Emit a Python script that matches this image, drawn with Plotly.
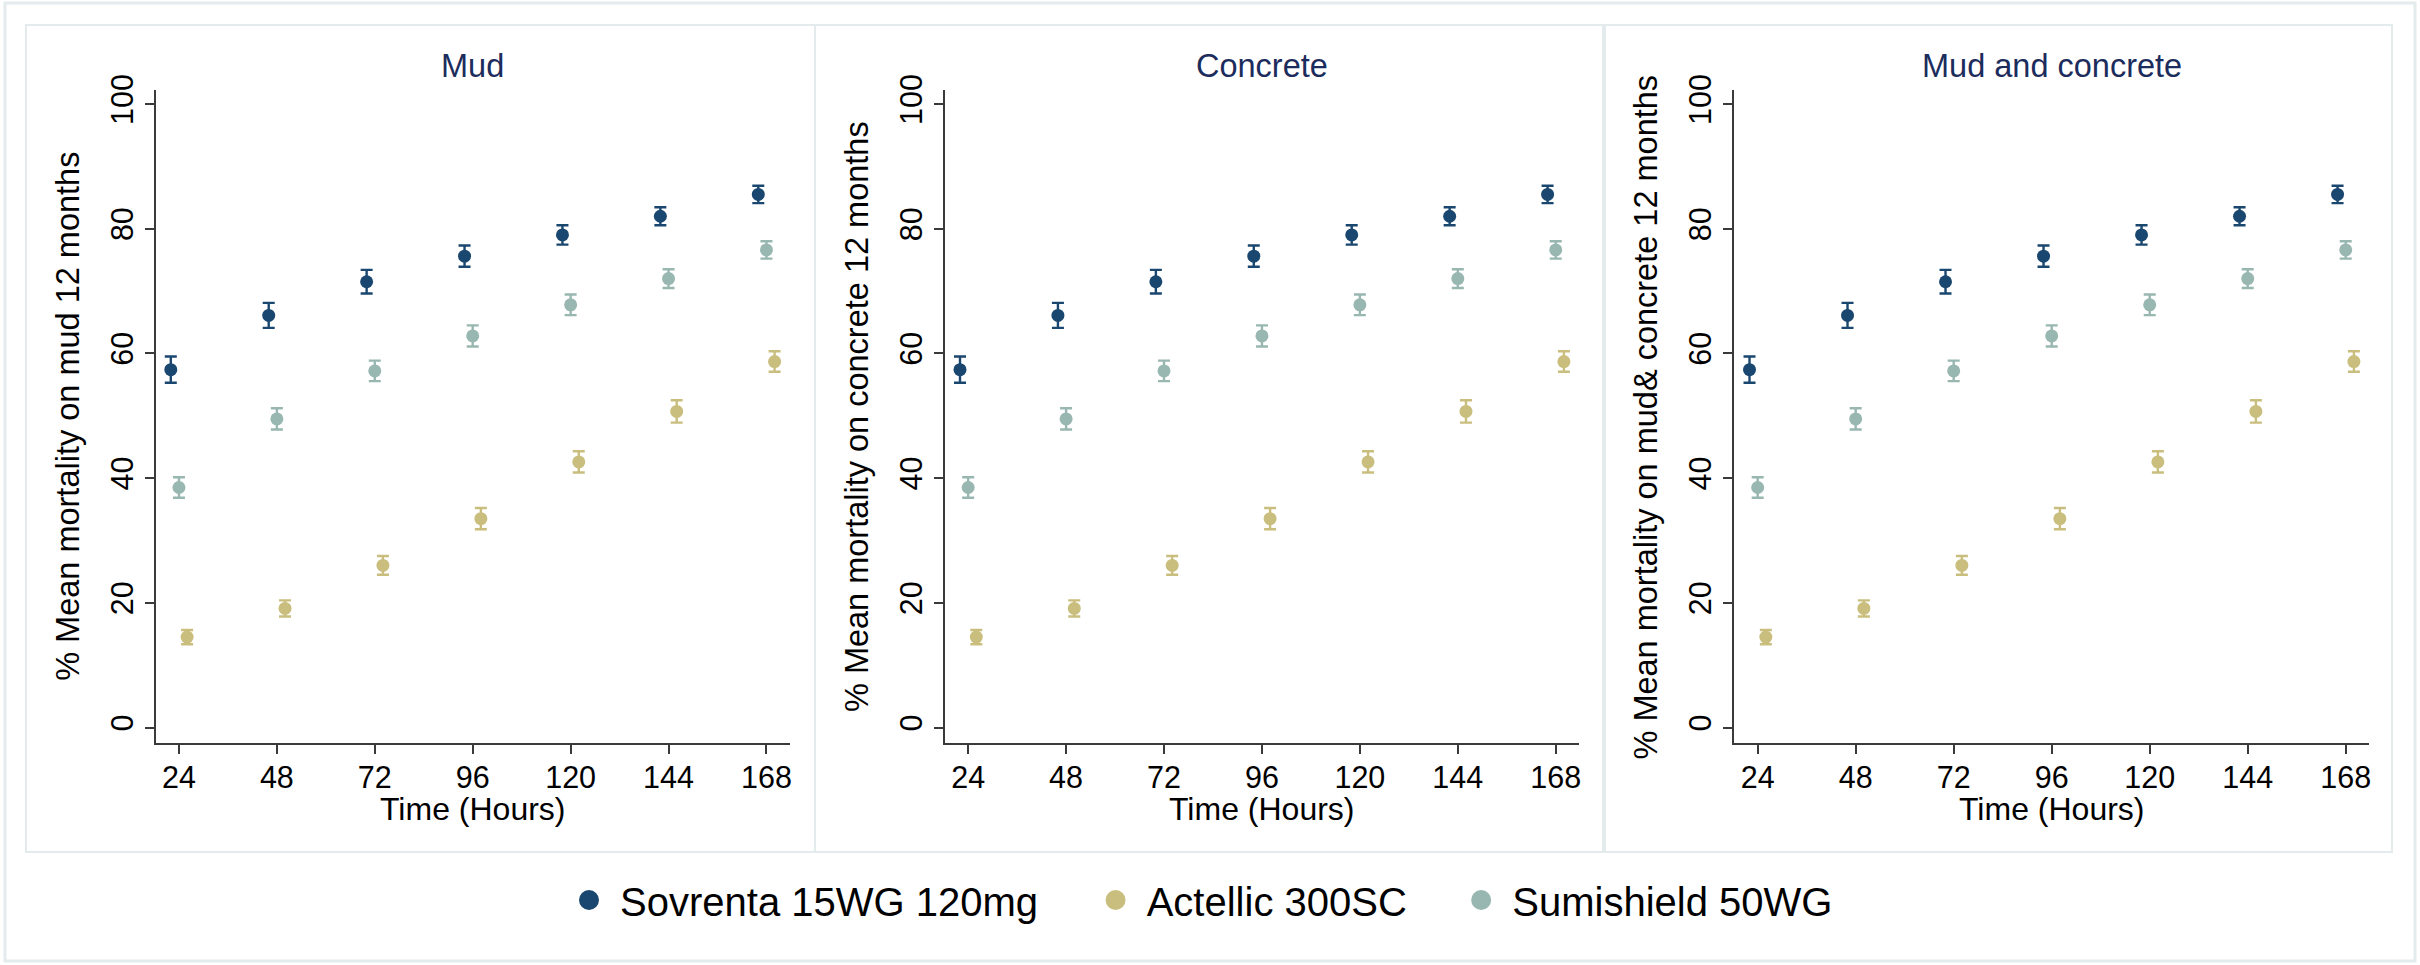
import plotly.graph_objects as go

# ---------------- data ----------------
hours = [24, 48, 72, 96, 120, 144, 168]

series_names = ["Sovrenta 15WG 120mg", "Actellic 300SC", "Sumishield 50WG"]

sovrenta_mean = [57.4, 66.1, 71.5, 75.6, 79.0, 82.0, 85.5]
sovrenta_err = [2.1, 2.0, 1.9, 1.7, 1.55, 1.45, 1.4]

actellic_mean = [14.5, 19.1, 26.0, 33.5, 42.6, 50.7, 58.7]
actellic_err = [1.15, 1.3, 1.5, 1.7, 1.7, 1.8, 1.65]

sumishield_mean = [38.5, 49.5, 57.2, 62.8, 67.8, 72.0, 76.6]
sumishield_err = [1.65, 1.7, 1.65, 1.7, 1.65, 1.5, 1.4]

panel_titles = ["Mud", "Concrete", "Mud and concrete"]
y_titles = [
    "% Mean mortality on mud 12 months",
    "% Mean mortality on concrete 12 months",
    "% Mean mortality on mud& concrete 12 months",
]
x_title = "Time (Hours)"
y_ticks = [0, 20, 40, 60, 80, 100]

# ---------------- style ----------------
W, H = 2420, 965
FONT = "Liberation Sans, Arial, Helvetica, sans-serif"
colors = ["#1a476f", "#c9be7d", "#98b7b0"]
dodge = [-2, 2, 0]  # horizontal offset (hours) used to separate the series
means = [sovrenta_mean, actellic_mean, sumishield_mean]
errs = [sovrenta_err, actellic_err, sumishield_err]
legend_pad = ["\u00a0" * 4 + "\u2009", "\u00a0" * 3 + "\u2009" * 2, ""]
AXC = "#3a3a3a"
TITLEC = "#1c2c5c"
FRAMEC = "#e3ebec"

# plot areas in pixels (left, right); shared top/bottom
plot_px = [(155.7, 789.7), (944.9, 1579.0), (1734.4, 2369.0)]
top_px, bot_px = 90.0, 743.3

fig = go.Figure()

for p in range(3):
    xa = "x" if p == 0 else f"x{p+1}"
    ya = "y" if p == 0 else f"y{p+1}"
    for s in range(3):
        fig.add_trace(go.Scatter(
            x=[h + dodge[s] for h in hours],
            y=means[s],
            mode="markers",
            marker=dict(size=13, color=colors[s], line=dict(width=0)),
            error_y=dict(type="data", array=errs[s], visible=True,
                         color=colors[s], thickness=2.4, width=6),
            name=series_names[s],
            showlegend=False,
            xaxis=xa, yaxis=ya,
        ))

# legend entries
for s in range(3):
    fig.add_trace(go.Scatter(
        x=[None], y=[None], mode="markers",
        marker=dict(size=16, color=colors[s], line=dict(width=4, color=colors[s])),
        name="\u00a0" + series_names[s] + legend_pad[s],
        showlegend=True, xaxis="x", yaxis="y",
    ))

layout = dict(
    width=W, height=H,
    margin=dict(l=0, r=0, t=0, b=0, pad=0, autoexpand=False),
    paper_bgcolor="white", plot_bgcolor="white",
    font=dict(family=FONT, color="black", size=30),
    showlegend=True,
    legend=dict(orientation="h", x=569 / W, xanchor="left",
                y=1 - 900 / H, yanchor="middle",
                font=dict(size=40, family=FONT, color="black"),
                bgcolor="rgba(0,0,0,0)", borderwidth=0),
)

ydom = [1 - bot_px / H, 1 - top_px / H]
annotations = []
for p in range(3):
    l, r = plot_px[p]
    xk = "xaxis" if p == 0 else f"xaxis{p+1}"
    yk = "yaxis" if p == 0 else f"yaxis{p+1}"
    anchor_y = "y" if p == 0 else f"y{p+1}"
    anchor_x = "x" if p == 0 else f"x{p+1}"
    layout[xk] = dict(
        domain=[l / W, r / W], anchor=anchor_y,
        range=[18.3, 173.7], tickvals=hours, ticktext=[str(h) for h in hours],
        showline=True, linecolor=AXC, linewidth=2,
        ticks="outside", ticklen=9, tickwidth=2, tickcolor=AXC,
        showgrid=False, zeroline=False, automargin=False,
        ticklabelstandoff=-3,
        tickfont=dict(size=30.5, family=FONT, color="black"),
    )
    layout[yk] = dict(
        domain=ydom, anchor=anchor_x,
        range=[-2.53, 102.25], tickvals=y_ticks,
        showline=True, linecolor=AXC, linewidth=2,
        ticks="outside", ticklen=9, tickwidth=2, tickcolor=AXC,
        showgrid=False, zeroline=False, tickangle=-90, automargin=False,
        tickfont=dict(size=30.5, family=FONT, color="black"),
    )
    cx = (l + r) / 2 / W
    # panel title
    annotations.append(dict(
        text=panel_titles[p], x=cx, y=1 - 66.5 / H,
        xref="paper", yref="paper", xanchor="center", yanchor="middle",
        showarrow=False, font=dict(size=32.5, family=FONT, color=TITLEC),
    ))
    # x axis title
    annotations.append(dict(
        text=x_title, x=cx, y=1 - 808.5 / H,
        xref="paper", yref="paper", xanchor="center", yanchor="middle",
        showarrow=False, font=dict(size=32, family=FONT, color="black"),
    ))
    # y axis title
    annotations.append(dict(
        text=y_titles[p], x=(l - 88.5) / W, y=1 - (top_px + bot_px) / 2 / H,
        xref="paper", yref="paper", xanchor="center", yanchor="middle",
        textangle=-90, showarrow=False,
        font=dict(size=32.5, family=FONT, color="black"),
    ))

layout["annotations"] = annotations

shapes = []
def rect(x0, y0, x1, y1, w=2):
    return dict(type="rect", xref="paper", yref="paper",
                x0=x0 / W, x1=x1 / W, y0=1 - y1 / H, y1=1 - y0 / H,
                line=dict(color=FRAMEC, width=w), fillcolor="rgba(0,0,0,0)", layer="below")
shapes.append(rect(5, 3, 2415, 961, 3))
shapes.append(rect(26, 25, 815, 852))
shapes.append(rect(815, 25, 1603, 852))
shapes.append(rect(1605, 25, 2392, 852))
layout["shapes"] = shapes

fig.update_layout(**layout)
fig.write_html(
    "out.html",
    config={"displayModeBar": False},
    post_script="document.body.style.margin='0px';document.body.style.padding='0px';",
)
